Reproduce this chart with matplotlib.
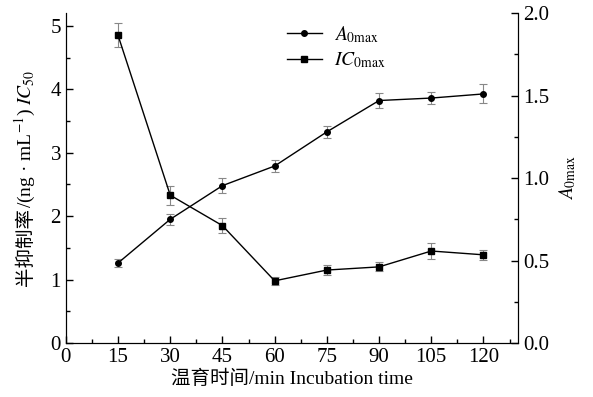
import matplotlib
matplotlib.use("Agg")
import matplotlib.pyplot as plt
from matplotlib.ticker import MultipleLocator
from matplotlib.lines import Line2D

plt.rcParams['font.family'] = ['Liberation Serif', 'Noto Sans CJK SC']
plt.rcParams['mathtext.fontset'] = 'stix'

# data
times = [15, 30, 45, 60, 75, 90, 105, 120]
ic0max = [4.85, 2.33, 1.85, 0.98, 1.15, 1.20, 1.45, 1.39]
ic0max_err = [0.19, 0.15, 0.12, 0.06, 0.08, 0.07, 0.13, 0.08]
a0max = [0.485, 0.75, 0.954, 1.073, 1.28, 1.47, 1.485, 1.51]
a0max_err = [0.027, 0.035, 0.046, 0.038, 0.038, 0.046, 0.038, 0.058]
xticks = [0, 15, 30, 45, 60, 75, 90, 105, 120]

fig = plt.figure(figsize=(5.93, 3.97), dpi=100)
ax = fig.add_axes([0.111, 0.136, 0.763, 0.831])
ax2 = ax.twinx()

ebc = '#888888'
ax.errorbar(times, ic0max, yerr=ic0max_err, color='black', lw=1,
            marker='s', ms=4, ecolor=ebc, elinewidth=0.8, capsize=3, capthick=0.8)
ax2.errorbar(times, a0max, yerr=a0max_err, color='black', lw=1,
             marker='o', ms=4, ecolor=ebc, elinewidth=0.8, capsize=3, capthick=0.8)

ax.set_xlim(0, 130)
ax.set_ylim(0, 5.2)
ax2.set_ylim(0, 2.0)
ax.set_xticks(xticks)
ax.xaxis.set_minor_locator(MultipleLocator(7.5))
ax.yaxis.set_major_locator(MultipleLocator(1))
ax.yaxis.set_minor_locator(MultipleLocator(0.5))
ax2.yaxis.set_major_locator(MultipleLocator(0.5))
ax2.yaxis.set_minor_locator(MultipleLocator(0.25))
ax2.set_yticks([0, 0.5, 1.0, 1.5, 2.0])
ax2.set_yticklabels(['0.0', '0.5', '1.0', '1.5', '2.0'])

for a in (ax, ax2):
    a.spines['top'].set_visible(False)
    a.tick_params(which='both', direction='in', labelsize=15, width=1)
    a.tick_params(which='major', length=5)
    a.tick_params(which='minor', length=3)

ax.set_xlabel('温育时间/min Incubation time', fontsize=14, labelpad=2)
ax2.set_ylabel(r'$\mathit{A}_{\mathrm{0max}}$', fontsize=14, labelpad=6)

# left y label built from pieces (CJK part + math part)
fig.canvas.draw()
r = fig.canvas.get_renderer()
parts = [('半抑制率', False), (r'/(ng · mL$^{-1}$) $\mathit{IC}_{50}$', True)]
texts = []
for s, m in parts:
    t = fig.text(0, 0, s, rotation=90, fontsize=14, ha='center', va='bottom',
                 family=['Noto Sans CJK SC'] if not m else ['Liberation Serif'])
    texts.append(t)
heights = [t.get_window_extent(r).height for t in texts]
total = sum(heights)
yc = fig.bbox.height * (0.136 + 0.831 / 2)
y0 = yc - total / 2
xpix = 25
for t, h in zip(texts, heights):
    t.set_position((xpix / fig.bbox.width, y0 / fig.bbox.height))
    y0 += h

h1 = Line2D([], [], color='black', lw=1, marker='o', ms=4)
h2 = Line2D([], [], color='black', lw=1, marker='s', ms=4)
ax.legend([h1, h2], [r'$\mathit{A}_{\mathrm{0max}}$', r'$\mathit{IC}_{\mathrm{0max}}$'],
          loc='upper left', bbox_to_anchor=(0.45, 1.02), frameon=False,
          fontsize=14, handlelength=1.8, handletextpad=0.6, labelspacing=0.3)

fig.savefig('out.png', dpi=100)
